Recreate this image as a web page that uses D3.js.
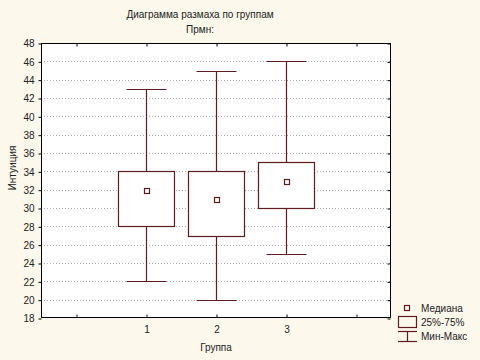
<!DOCTYPE html>
<html><head><meta charset="utf-8">
<script src="https://cdn.jsdelivr.net/npm/d3@7"></script>
<style>
html,body{margin:0;padding:0;background:#fdf8ec;}
svg{display:block;font-family:Arial,"Liberation Sans",sans-serif;}
</style></head>
<body><svg id="c" width="480" height="360"></svg>
<script>
const groups = ["1", "2", "3"];
const mins = [22, 20, 25];
const q1s = [28, 27, 30];
const medians = [32, 31, 33];
const q3s = [34, 34, 35];
const maxs = [43, 45, 46];
const xTickLabels = ["", "1", "2", "3", ""];
const yTicks = [18,20,22,24,26,28,30,32,34,36,38,40,42,44,46,48];
const legendLabels = ["Медиана", "25%-75%", "Мин-Макс"];

const col = "#5e1c1e";
const svg = d3.select("#c");
const L = 41, R = 391, T = 43, B = 318;

const x = d3.scaleLinear().domain([-0.5, 4.5]).range([L, R]);
const y = d3.scaleLinear().domain([18, 48]).range([B, T]);
const py = v => Math.round(y(v)) + 0.5;

svg.append("rect").attr("x", L).attr("y", T).attr("width", R - L).attr("height", B - T).attr("fill", "#fff");

// grid
svg.append("g").selectAll("line").data(yTicks.filter(d => d > 18 && d < 48)).join("line")
  .attr("x1", L).attr("x2", R).attr("y1", d => py(d)).attr("y2", d => py(d))
  .attr("stroke", "#b0b0b0").attr("stroke-dasharray", "1,2").attr("stroke-width", 1);

// axes
const yAxis = d3.axisLeft(y).tickValues(yTicks).tickSize(3).tickPadding(4).tickFormat(d3.format("d"));
const gy = svg.append("g").attr("transform", `translate(${L + 0.5},0.5)`).call(yAxis);
gy.select(".domain").remove();
gy.selectAll("text").attr("font-size", 10).attr("fill", "#222");
gy.selectAll("line").attr("stroke", "#000");

const gyR = svg.append("g").attr("transform", `translate(${R - 0.5},0.5)`).call(d3.axisLeft(y).tickValues(yTicks).tickSize(3).tickFormat(""));
gyR.select(".domain").remove();
gyR.selectAll("line").attr("stroke", "#000");

const xAxis = d3.axisBottom(x).tickValues([0,1,2,3,4]).tickSize(-3).tickPadding(8).tickFormat((d,i) => xTickLabels[i]);
const gx = svg.append("g").attr("transform", `translate(0.5,${B - 0.5})`).call(xAxis);
gx.select(".domain").remove();
gx.selectAll("text").attr("font-size", 10).attr("fill", "#222");
gx.selectAll("line").attr("stroke", "#000");
const gxT = svg.append("g").attr("transform", `translate(0.5,${T + 0.5})`).call(d3.axisTop(x).tickValues([0,1,2,3,4]).tickSize(-3).tickFormat(""));
gxT.select(".domain").remove();
gxT.selectAll("line").attr("stroke", "#000");

svg.append("rect").attr("x", L + 0.5).attr("y", T + 0.5).attr("width", R - L - 1).attr("height", B - T - 1)
  .attr("fill", "none").attr("stroke", "#000").attr("stroke-width", 1);

// boxes
const data = groups.map((g, i) => ({ pos: i + 1, mn: mins[i], q1: q1s[i], md: medians[i], q3: q3s[i], mx: maxs[i] }));
const bw = 56, cw = 40;
const gb = svg.append("g").attr("stroke", col).attr("fill", "none").attr("stroke-width", 1.2);
data.forEach(d => {
  const cx = Math.round(x(d.pos)) + 0.5;
  gb.append("line").attr("x1", cx).attr("x2", cx).attr("y1", py(d.mx)).attr("y2", py(d.q3));
  gb.append("line").attr("x1", cx).attr("x2", cx).attr("y1", py(d.q1)).attr("y2", py(d.mn));
  gb.append("line").attr("x1", cx - cw/2).attr("x2", cx + cw/2).attr("y1", py(d.mx)).attr("y2", py(d.mx));
  gb.append("line").attr("x1", cx - cw/2).attr("x2", cx + cw/2).attr("y1", py(d.mn)).attr("y2", py(d.mn));
  gb.append("rect").attr("x", cx - bw/2).attr("y", py(d.q3)).attr("width", bw).attr("height", py(d.q1) - py(d.q3)).attr("fill", "#fff");
  gb.append("rect").attr("x", cx - 2).attr("y", py(d.md) - 2).attr("width", 5).attr("height", 5).attr("fill", "#fff");
});

// titles
svg.append("text").attr("x", 200).attr("y", 18).attr("text-anchor", "middle").attr("font-size", 10).attr("fill", "#222").text("Диаграмма размаха по группам");
svg.append("text").attr("x", 200).attr("y", 33).attr("text-anchor", "middle").attr("font-size", 10).attr("fill", "#222").text("Прмн:");
svg.append("text").attr("x", 216).attr("y", 351).attr("text-anchor", "middle").attr("font-size", 10).attr("fill", "#222").text("Группа");
svg.append("text").attr("transform", "translate(16,168) rotate(-90)").attr("text-anchor", "middle").attr("font-size", 10).attr("fill", "#222").text("Интуиция");

// legend
const lg = svg.append("g").attr("stroke", col).attr("fill", "none").attr("stroke-width", 1.2);
lg.append("rect").attr("x", 404.5).attr("y", 305.5).attr("width", 5).attr("height", 5);
lg.append("rect").attr("x", 398.5).attr("y", 316.5).attr("width", 18).attr("height", 11);
lg.append("line").attr("x1", 398).attr("x2", 417).attr("y1", 331.5).attr("y2", 331.5);
lg.append("line").attr("x1", 407.5).attr("x2", 407.5).attr("y1", 331.5).attr("y2", 341.5);
lg.append("line").attr("x1", 398).attr("x2", 417).attr("y1", 341.5).attr("y2", 341.5);
const lt = [312, 326, 340];
legendLabels.forEach((t, i) => {
  svg.append("text").attr("x", 421).attr("y", lt[i]).attr("font-size", 10).attr("fill", "#222").text(t);
});
</script></body></html>
